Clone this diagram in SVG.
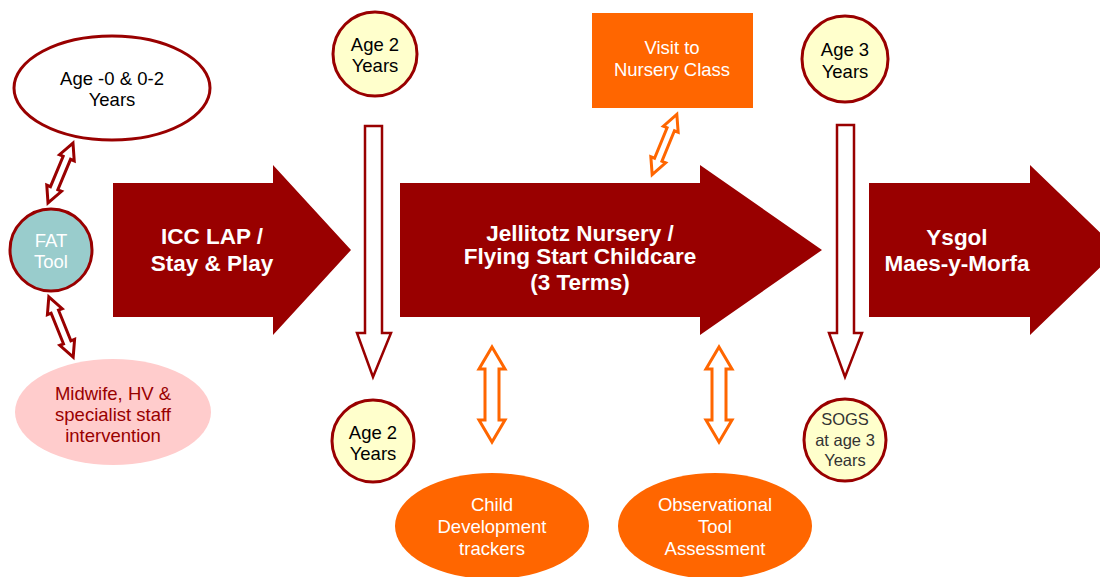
<svg xmlns="http://www.w3.org/2000/svg" width="1100" height="577" viewBox="0 0 1100 577">
<style>
text{font-family:"Liberation Sans",Arial,sans-serif;text-anchor:middle;}
.big{fill:#fff;font-weight:bold;font-size:22.5px;}
.n{font-size:18.5px;fill:#000;}
.w{font-size:18.5px;fill:#fff;}
.m{font-size:18.5px;fill:#990000;}
.s{font-size:16.5px;fill:#333;}
.circ{fill:#ffffcc;stroke:#990000;stroke-width:3;}
.bar{fill:#990000;}
.dr{fill:#fff;stroke:#990000;stroke-width:3;stroke-linejoin:miter;}
.or{fill:#fff;stroke:#ff6600;stroke-width:3;stroke-linejoin:miter;}
.down{fill:#fff;stroke:#990000;stroke-width:2.5;}
</style>
<defs>
<path id="dbl" d="M0,-32.5 L8,-16.5 L4,-16.5 L4,16.5 L8,16.5 L0,32.5 L-8,16.5 L-4,16.5 L-4,-16.5 L-8,-16.5 Z"/>
<path id="dblv" d="M0,-47.5 L13,-25.5 L7,-25.5 L7,25.5 L13,25.5 L0,47.5 L-13,25.5 L-7,25.5 L-7,-25.5 L-13,-25.5 Z"/>
</defs>
<g id="connectors">
<use href="#dbl" class="dr" transform="translate(60.5,173) rotate(22.6)"/>
<use href="#dbl" class="dr" transform="translate(61,327) rotate(-22)"/>
<use href="#dbl" class="or" transform="translate(664.5,144.5) rotate(22.3)"/>
<use href="#dblv" class="or" transform="translate(492,394.5)"/>
<use href="#dblv" class="or" transform="translate(719,394.5)"/>
<path class="down" d="M365,126 H382 V333 H391 L373,377 L357,333 H365 Z"/>
<path class="down" d="M837,125 H854 V333 H862 L845,377 L829,333 H837 Z"/>
</g>
<g id="stage1">
<path class="bar" d="M113,183 H273 V165 L351,250 L273,335 V317 H113 Z"/>
<text class="big" x="212" y="244">ICC LAP /</text>
<text class="big" x="212" y="271">Stay &amp; Play</text>
</g>
<g id="stage2">
<path class="bar" d="M400,183 H700 V165 L822,250 L700,335 V317 H400 Z"/>
<text class="big" x="580" y="241">Jellitotz Nursery /</text>
<text class="big" x="580" y="264">Flying Start Childcare</text>
<text class="big" x="580" y="290">(3 Terms)</text>
</g>
<g id="stage3">
<path class="bar" d="M869,183 H1030 V165 L1118,250 L1030,335 V317 H869 Z"/>
<text class="big" x="957" y="245">Ysgol</text>
<text class="big" x="957" y="271">Maes-y-Morfa</text>
</g>
<g id="age02">
<ellipse cx="112" cy="88" rx="98" ry="52" fill="#fff" stroke="#990000" stroke-width="3"/>
<text class="n" x="112" y="85">Age -0 &amp; 0-2</text>
<text class="n" x="112" y="106">Years</text>
</g>
<g id="fat">
<circle cx="51" cy="250" r="41" fill="#99cccc" stroke="#990000" stroke-width="3"/>
<text class="w" x="51" y="247">FAT</text>
<text class="w" x="51" y="268">Tool</text>
</g>
<g id="midwife">
<ellipse cx="113" cy="412" rx="98" ry="53" fill="#ffcccc"/>
<text class="m" x="113" y="400">Midwife, HV &amp;</text>
<text class="m" x="113" y="421">specialist staff</text>
<text class="m" x="113" y="442">intervention</text>
</g>
<g id="age2top">
<circle class="circ" cx="375" cy="54" r="42"/>
<text class="n" x="375" y="51">Age 2</text>
<text class="n" x="375" y="72">Years</text>
</g>
<g id="age2bottom">
<circle class="circ" cx="373" cy="441" r="41"/>
<text class="n" x="373" y="439">Age 2</text>
<text class="n" x="373" y="460">Years</text>
</g>
<g id="visit">
<rect x="592" y="13" width="161" height="95" fill="#ff6600"/>
<text class="w" x="672" y="54">Visit to</text>
<text class="w" x="672" y="76">Nursery Class</text>
</g>
<g id="age3">
<circle class="circ" cx="845" cy="59" r="43"/>
<text class="n" x="845" y="56">Age 3</text>
<text class="n" x="845" y="78">Years</text>
</g>
<g id="sogs">
<circle class="circ" cx="845" cy="440" r="41"/>
<text class="s" x="845" y="425">SOGS</text>
<text class="s" x="845" y="446">at age 3</text>
<text class="s" x="845" y="466">Years</text>
</g>
<g id="trackers">
<ellipse cx="492" cy="526" rx="97" ry="53" fill="#ff6600"/>
<text class="w" x="492" y="511">Child</text>
<text class="w" x="492" y="533">Development</text>
<text class="w" x="492" y="555">trackers</text>
</g>
<g id="observational">
<ellipse cx="715" cy="526" rx="97" ry="53" fill="#ff6600"/>
<text class="w" x="715" y="511">Observational</text>
<text class="w" x="715" y="533">Tool</text>
<text class="w" x="715" y="555">Assessment</text>
</g>
</svg>
